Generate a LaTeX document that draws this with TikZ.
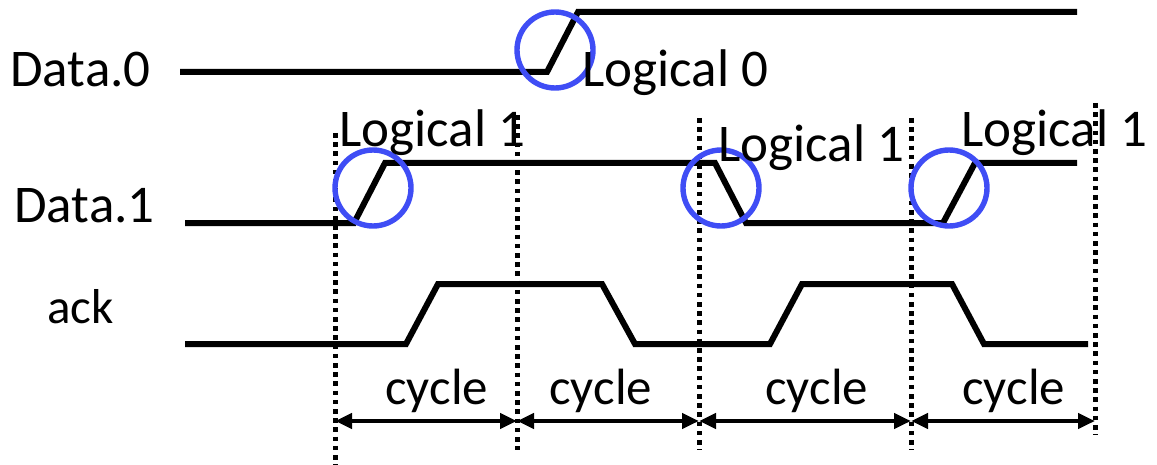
\documentclass[tikz,border=0pt]{standalone}
\usepackage{fontspec}
\setmainfont{Carlito}
\usetikzlibrary{arrows.meta}
\definecolor{edgeblue}{HTML}{3F4DF5}

\begin{document}
\begin{tikzpicture}[x=0.5pt,y=-0.5pt,
  lbl/.style={font=\fontsize{26.5}{30}\selectfont,inner sep=0pt,anchor=base west},
  small/.style={lbl,font=\fontsize{24.5}{28}\selectfont},
  cyc/.style={lbl,font=\fontsize{25.5}{29}\selectfont},
  wave/.style={line width=3pt,line join=miter},
  ring/.style={circle,draw=edgeblue,line width=2.7pt,minimum size=38pt,inner sep=0pt},
  tick/.style={line width=2.5pt,dash pattern=on 2.3pt off 2.3pt},
  span/.style={{Triangle[length=8.5pt,width=7.5pt]}-{Triangle[length=8.5pt,width=7.5pt]},line width=2.4pt}]
\useasboundingbox (0,0) rectangle (1157,465);

% cycle boundaries
\coordinate (v0t) at (335,133); \coordinate (v0b) at (335,465);
\coordinate (v1t) at (517,115); \coordinate (v1b) at (517,450);
\coordinate (v2t) at (699,118); \coordinate (v2b) at (699,450);
\coordinate (v3t) at (911,118); \coordinate (v3b) at (911,450);
\coordinate (v4t) at (1095,103); \coordinate (v4b) at (1095,435);
\draw[tick] (v0t)--(v0b); \draw[tick] (v1t)--(v1b); \draw[tick] (v2t)--(v2b);
\draw[tick] (v3t)--(v3b); \draw[tick] (v4t)--(v4b);

% signal names
\node[lbl] (d0) at (10,87) {Data.0};
\node[lbl] (d1) at (14,222) {Data.1};
\node[small] (ak) at (47,323) {ack};

% waveforms
\draw[wave] (180,72)--(547,72)--(578,12)--(1077,12);
\draw[wave] (185,223)--(354,223)--(385,163)--(715,163)--(746,223)--(943,223)--(975,163)--(1077,163);
\draw[wave] (185,344)--(406,344)--(438,284)--(602,284)--(635,344)--(770,344)--(802,284)--(952,284)--(984,344)--(1088,344);

% transitions
\node[ring] (e0) at (555,50) {};
\node[ring] (e1) at (373,188) {};
\node[ring] (e2) at (721,188) {};
\node[ring] (e3) at (949,188) {};
\node[lbl] (l0) at (582,87) {Logical 0};
\node[lbl] (l1) at (339,147) {Logical 1};
\node[lbl] (l2) at (718,162) {Logical 1};
\node[lbl] (l3) at (961,147) {Logical 1};

% cycles
\coordinate (a0) at (335,421); \coordinate (a1) at (517,421); \coordinate (a2) at (699,421);
\coordinate (a3) at (911,421); \coordinate (a4) at (1095,421);
\draw[span] (a0)--(a1); \draw[span] (a1)--(a2); \draw[span] (a2)--(a3); \draw[span] (a3)--(a4);
\node[cyc] (c0) at (385,404) {cycle};
\node[cyc] (c1) at (549,404) {cycle};
\node[cyc] (c2) at (765,404) {cycle};
\node[cyc] (c3) at (962,404) {cycle};
\end{tikzpicture}
\end{document}
